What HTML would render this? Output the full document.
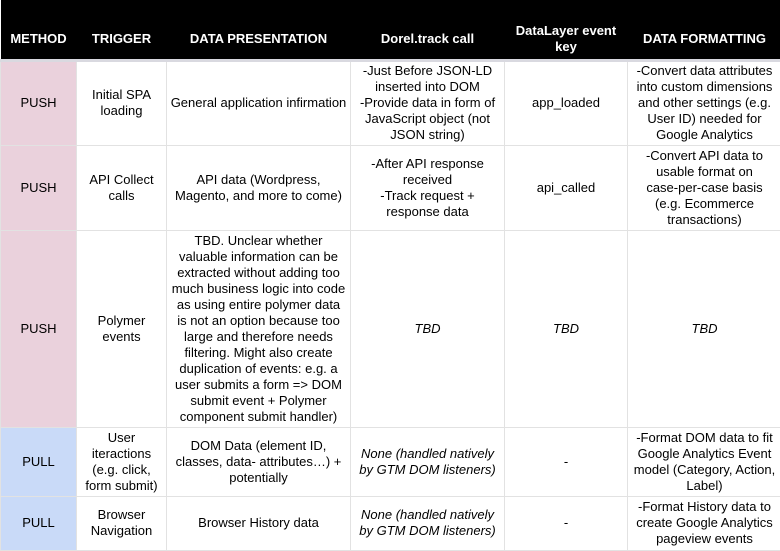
<!DOCTYPE html>
<html><head><style>
body{margin:0;width:780px;height:549px;overflow:hidden;background:#fff;font-family:"Liberation Sans",Arial,sans-serif}
table{border-collapse:collapse;table-layout:fixed;position:absolute;left:0;top:0;width:781px}
td,th{border:1px solid #e2e2e2;text-align:center;vertical-align:middle;font-size:13px;line-height:16px;padding:0 2px;color:#000;overflow:hidden}
td.f{padding:0 6px}
td.g{padding:0 12px}
td.q{padding:0 4px}
th{background:#000;color:#fff;font-weight:bold;font-size:13px;border:none;border-bottom:3px solid #d9d9e0;height:60px;padding-top:20px;box-sizing:border-box}
td.p{background:#ead1dc}
td.u{background:#c9daf8}
i{font-style:italic}
</style></head><body>
<table>
<colgroup><col style="width:76px"><col style="width:90px"><col style="width:184px"><col style="width:154px"><col style="width:123px"><col style="width:154px"></colgroup>
<tr><th>METHOD</th><th>TRIGGER</th><th>DATA PRESENTATION</th><th>Dorel.track call</th><th>DataLayer event key</th><th>DATA FORMATTING</th></tr>
<tr style="height:85px"><td class="p">PUSH</td><td>Initial SPA loading</td><td>General application infirmation</td><td>-Just Before JSON-LD inserted into DOM<br>-Provide data in form of JavaScript object (not JSON string)</td><td>app_loaded</td><td class="f">-Convert data attributes into custom dimensions and other settings (e.g. User ID) needed for Google Analytics</td></tr>
<tr style="height:85px"><td class="p">PUSH</td><td>API Collect calls</td><td>API data (Wordpress, Magento, and more to come)</td><td>-After API response received<br>-Track request + response data</td><td>api_called</td><td class="g">-Convert API data to usable format on case-per-case basis (e.g. Ecommerce transactions)</td></tr>
<tr style="height:197px"><td class="p">PUSH</td><td>Polymer events</td><td class="q">TBD. Unclear whether valuable information can be extracted without adding too much business logic into code as using entire polymer data is not an option because too large and therefore needs filtering. Might also create duplication of events: e.g. a user submits a form =&gt; DOM submit event + Polymer component submit handler)</td><td><i>TBD</i></td><td><i>TBD</i></td><td><i>TBD</i></td></tr>
<tr style="height:69px"><td class="u">PULL</td><td>User iteractions (e.g. click, form submit)</td><td>DOM Data (element ID, classes, data- attributes…) + potentially</td><td><i>None (handled natively by GTM DOM listeners)</i></td><td>-</td><td>-Format DOM data to fit Google Analytics Event model (Category, Action, Label)</td></tr>
<tr style="height:54px"><td class="u">PULL</td><td>Browser Navigation</td><td>Browser History data</td><td><i>None (handled natively by GTM DOM listeners)</i></td><td>-</td><td class="f">-Format History data to create Google Analytics pageview events</td></tr>
</table>
</body></html>
